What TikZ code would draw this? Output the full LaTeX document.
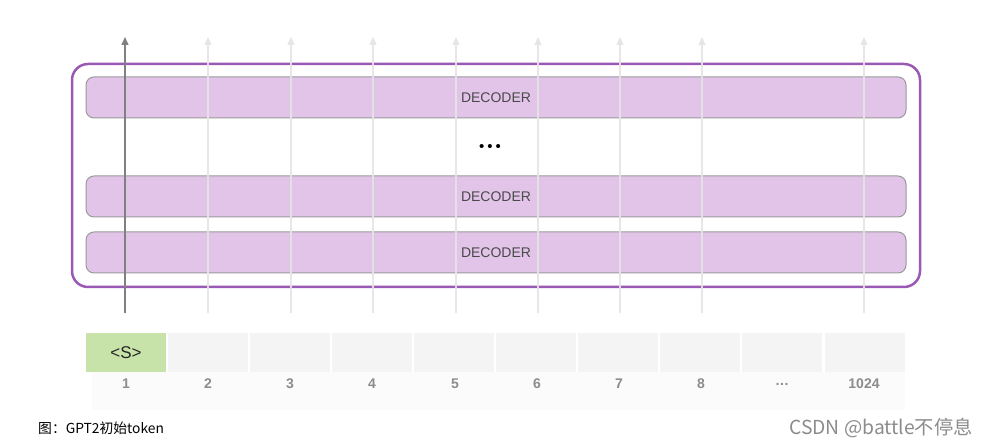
\documentclass[tikz,border=0pt]{standalone}
\usepackage{fontspec}
\setmainfont{Liberation Sans}
\newfontfamily\cjk{Noto Sans CJK SC}
\usetikzlibrary{arrows.meta}
\definecolor{outerpurple}{HTML}{9B59B6}
\definecolor{decfill}{HTML}{E2C4E9}
\definecolor{decdraw}{HTML}{9A9A9A}
\definecolor{decText}{HTML}{4A4A4A}
\definecolor{tokgreen}{HTML}{C8E3A9}
\definecolor{tokgray}{HTML}{F4F4F4}
\definecolor{numgray}{HTML}{8C8C8C}
\tikzset{
  decbox/.style={draw=decdraw, fill=decfill, line width=1pt, rounded corners=8pt, minimum width=820pt, minimum height=41pt, inner sep=0pt, font=\fontsize{14}{16}\selectfont, text=decText},
  tokcell/.style={fill=tokgray, minimum width=80pt, minimum height=39pt, inner sep=0pt},
  numlbl/.style={font=\bfseries\fontsize{14}{16}\selectfont, text=numgray},
  colarrow/.style={draw=black!10, line width=1.3pt, -{Triangle[length=8pt,width=7pt]}, opacity=0.9},
  mainarrow/.style={draw=black!50, line width=1.5pt, -{Triangle[length=8pt,width=7pt]}}
}
\begin{document}
\begin{tikzpicture}[x=1pt,y=-1pt]
\useasboundingbox[fill=white] (0,0) rectangle (989,446);
% outer container
\node[draw=outerpurple, line width=2.5pt, rounded corners=16pt, minimum width=848pt, minimum height=223pt, inner sep=0pt] (outer) at (496,175.5) {};
% decoders
\node[decbox] (dec1) at (496,97.5) {DECODER};
\node[font=\fontsize{15}{15}\selectfont] (dots) at (490,148) {\textbullet\hspace{3pt}\textbullet\hspace{3pt}\textbullet};
\node[decbox] (dec2) at (496,196.5) {DECODER};
\node[decbox] (dec3) at (496,252.5) {DECODER};
% faint band under numbers
\fill[black!1.5] (92,372) rectangle (905,410);
% token cells
\node[tokcell, fill=tokgreen, font=\fontsize{17}{19}\selectfont, text=black!85] (t1) at (126,352.5) {<S>};
\foreach \i/\x in {2/208,3/290,4/372,5/454,6/536,7/618,8/700,9/782,10/865}{
  \node[tokcell] (t\i) at (\x,352.5) {};
}
% numbers
\foreach \i/\x/\l in {1/126/1,2/208/2,3/290/3,4/372/4,5/455/5,6/537/6,7/619/7,8/701/8,9/782/\ldots,10/864/1024}{
  \node[numlbl] (n\i) at (\x,384) {\l};
}
% arrows
\foreach \i/\x in {2/208,3/291,4/373,5/456,6/538,7/620,8/702,10/864}{
  \coordinate (s\i) at (\x,313);
  \coordinate (e\i) at (\x,37);
  \draw[colarrow] (s\i) -- (e\i);
}
\coordinate (s1) at (125,313);
\coordinate (e1) at (125,37);
\draw[mainarrow] (s1) -- (e1);
% caption
\node[anchor=west, inner sep=0pt, font=\cjk\fontsize{13.8}{15}\selectfont] (cap) at (38,428) {图：GPT2初始token};
\node[anchor=east, inner sep=0pt, font=\cjk\fontsize{19.3}{21}\selectfont, text=black!45] (wm) at (973,428) {CSDN @battle不停息};
\end{tikzpicture}
\end{document}
